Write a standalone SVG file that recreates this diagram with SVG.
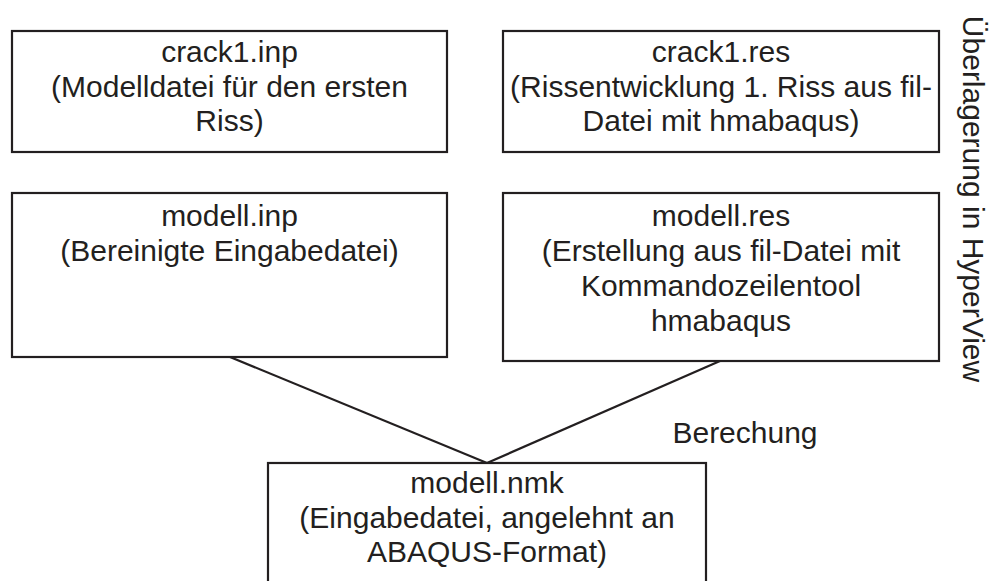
<svg xmlns="http://www.w3.org/2000/svg" width="992" height="581" viewBox="0 0 992 581">
<style>
.box{fill:#ffffff;stroke:#231f20;stroke-width:2.2}
.t{font-family:"Liberation Sans",Arial,sans-serif;font-size:30px;fill:#231f20;text-anchor:middle}
.c{stroke:#231f20;stroke-width:2.2;fill:none}
</style>
<rect width="992" height="581" fill="#ffffff"/>
<g id="connectors">
<line class="c" x1="230" y1="357" x2="487" y2="463"/>
<line class="c" x1="720" y1="361" x2="487" y2="463"/>
</g>
<g id="crack1_inp">
<rect class="box" x="12" y="31" width="435" height="121"/>
<text class="t" x="229.5" y="62">crack1.inp</text>
<text class="t" x="229.5" y="96.5">(Modelldatei für den ersten</text>
<text class="t" x="229.5" y="131">Riss)</text>
</g>
<g id="crack1_res">
<rect class="box" x="503" y="31" width="436" height="121"/>
<text class="t" x="721" y="62">crack1.res</text>
<text class="t" x="721" y="96.5">(Rissentwicklung 1. Riss aus fil-</text>
<text class="t" x="721" y="131">Datei mit hmabaqus)</text>
</g>
<g id="modell_inp">
<rect class="box" x="12" y="193" width="435" height="164"/>
<text class="t" x="229.5" y="226">modell.inp</text>
<text class="t" x="229.5" y="260.5">(Bereinigte Eingabedatei)</text>
</g>
<g id="modell_res">
<rect class="box" x="503" y="193" width="436" height="168"/>
<text class="t" x="721" y="226">modell.res</text>
<text class="t" x="721" y="261">(Erstellung aus fil-Datei mit</text>
<text class="t" x="721" y="296">Kommandozeilentool</text>
<text class="t" x="721" y="331">hmabaqus</text>
</g>
<g id="modell_nmk">
<rect class="box" x="268" y="463" width="438" height="140"/>
<text class="t" x="487" y="493">modell.nmk</text>
<text class="t" x="487" y="528">(Eingabedatei, angelehnt an</text>
<text class="t" x="487" y="562">ABAQUS-Format)</text>
</g>
<g id="label_berechung">
<text class="t" x="745" y="443">Berechung</text>
</g>
<g id="label_hyperview">
<text class="t" transform="translate(963,199) rotate(90)" x="0" y="0">Überlagerung in HyperView</text>
</g>
</svg>
